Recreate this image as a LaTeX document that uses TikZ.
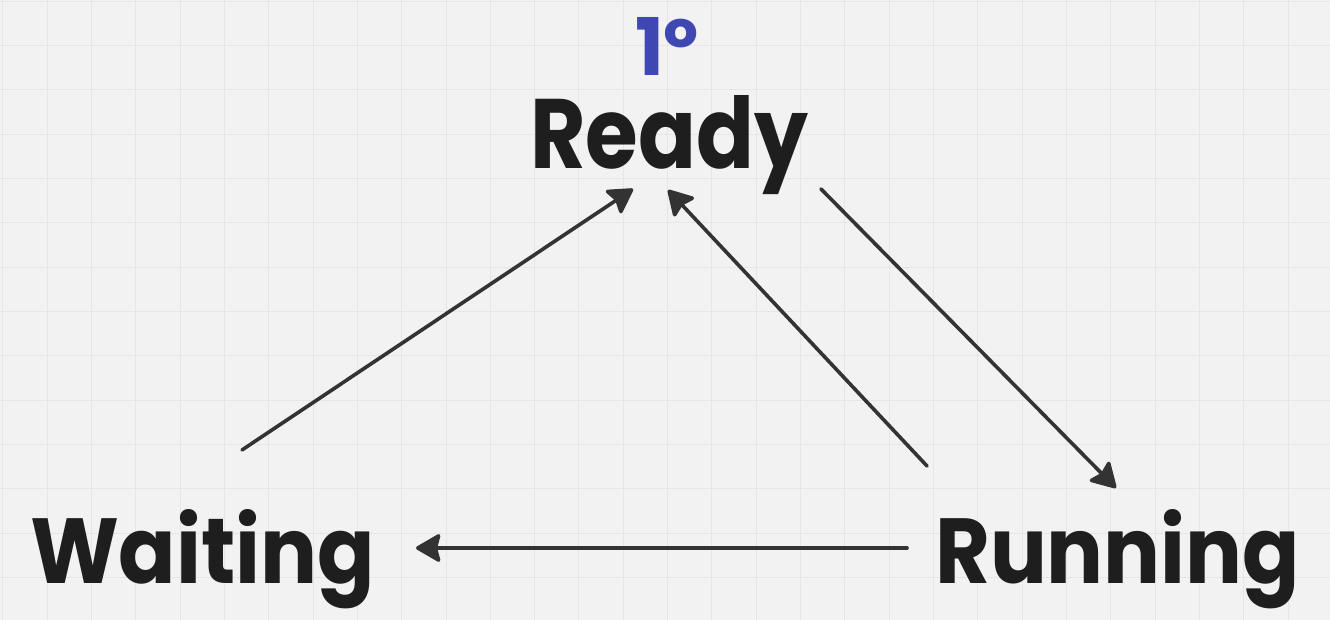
\documentclass[tikz,border=0pt]{standalone}
\usepackage{fontspec}
\newfontfamily\popb{Poppins Bold}
\usetikzlibrary{arrows.meta}
\definecolor{bg}{HTML}{F2F2F2}
\definecolor{gridc}{HTML}{E6E6E6}
\definecolor{ink}{HTML}{1E1E1E}
\definecolor{arrowc}{HTML}{333333}
\definecolor{bluec}{HTML}{3F48B2}
\tikzset{
  gridline/.style={draw=gridc, line width=1pt},
  word/.style={anchor=base west, inner sep=0pt, outer sep=0pt, text=ink},
  conn/.style={draw=arrowc, line width=3.6pt, line cap=round,
    -{Stealth[length=27pt,width=31pt,inset=4pt,round]}},
}
\begin{document}
\begin{tikzpicture}[x=1pt,y=-1pt]
\useasboundingbox (0,0) rectangle (1330,620);
\fill[bg] (0,0) rectangle (1330,620);
\foreach \i in {0,...,29} \draw[gridline] ({2.7+44.33*\i},0) -- ({2.7+44.33*\i},620);
\foreach \j in {0,...,13} \draw[gridline] (0,{1.3+44.33*\j}) -- (1330,{1.3+44.33*\j});

\node[word] (ready) at (530,169) {\resizebox{278pt}{73pt}{\popb Ready}};
\node[word] (waiting) at (30,583) {\resizebox{345pt}{74pt}{\popb Waiting}};
\node[word] (running) at (935,583) {\resizebox{365pt}{74pt}{\popb Running}};
\node[word, text=bluec] (first) at (635,76) {\resizebox{64pt}{58pt}{\popb 1º}};

\coordinate (w1) at (242,450);
\coordinate (r1) at (633,189);
\coordinate (n1) at (927,466);
\coordinate (r2) at (668,190);
\coordinate (r3) at (821,189);
\coordinate (n2) at (1116,488);
\coordinate (n3) at (907,548);
\coordinate (w2) at (416,548);

\draw[conn] (w1) -- (r1);
\draw[conn] (n1) -- (r2);
\draw[conn] (r3) -- (n2);
\draw[conn] (n3) -- (w2);
\end{tikzpicture}
\end{document}
